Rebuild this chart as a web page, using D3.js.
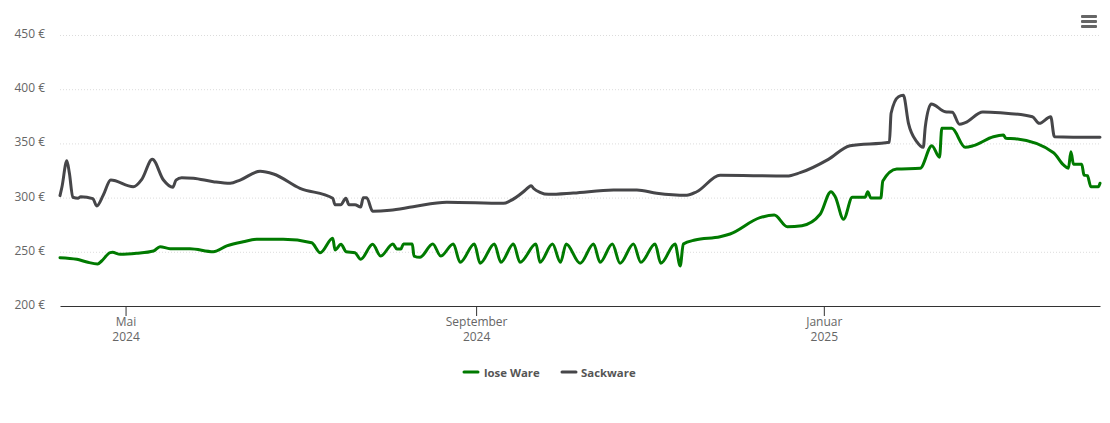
<!DOCTYPE html>
<html>
<head>
<meta charset="utf-8">
<title>Preisentwicklung</title>
<script src="https://cdn.jsdelivr.net/npm/d3@7"></script>
<style>
  html, body { margin: 0; padding: 0; background: #fff; }
  text { font-family: "Open Sans", sans-serif; }
</style>
</head>
<body>
<div id="chart"></div>
<script>
// days counted from 1 May 2024, prices in euro
var looseDays = [-23,-17.1,-13.6,-9.8,-8.4,-5.4,-4.6,-1.9,3.9,9.8,12.1,15.6,22.6,30.8,35.5,41.3,46,55.3,65.3,68.3,72.7,73.5,75.6,77.4,80.5,82.5,86.7,89.5,93.8,95.2,96.6,97.5,100.6,101.2,103.3,107.8,110.6,115,117.4,122.4,124.4,129.4,131.7,136.1,138.4,144,145.4,149.8,152.6,154.6,159.5,164.2,166.5,170.8,173.5,178.2,180.8,185.8,187.8,192.8,194.6,195.7,199.8,208.6,212.1,222.6,227.6,232.2,237.3,243.7,247.5,249,251.9,255,259.5,260.4,261.5,265,265.7,270.6,278.8,282.9,285.6,286.4,289.9,294.6,297.5,304.5,308,308.9,312.1,325.6,329.1,330.8,331.7,332.6,335.5,336.3,337.5,338.7,341.3,341.9];
var loosePrices = [244.6,243.1,240.6,238.7,241.5,249.2,249.5,247.7,248.6,250.7,254.7,252.9,252.9,250.1,255.4,259.3,261.5,261.5,258.4,249.2,262.5,251.7,256.9,250.1,249.2,243.1,256.9,246.1,257.2,252.6,252.6,257.2,257.2,246.1,244.9,257.2,246.1,257.2,240.3,257.2,239.4,257.2,240.3,257.2,240.3,257.2,240.3,257.2,240.3,257.2,239.4,257.2,240.3,257.2,239.4,257.2,240.3,257.2,239.4,257.2,236.9,257.2,260.9,263.9,266.4,281.5,283.9,273.2,274.1,284.6,305.4,300.8,280,300.3,300.3,305.4,299.6,299.6,315.3,326.4,327,347.9,337.2,363.9,363.9,346.4,347.9,356.2,357.7,354.7,354.3,341.4,330.1,327,342.3,330.7,330.7,320.8,320.2,310,310,313.2];

var sackDays = [-23,-22.3,-20.6,-19.7,-18.5,-16.6,-15.7,-11.5,-10.1,-7.8,-5.2,2.7,5.7,9.4,13.3,16.6,17.7,19.7,23.8,30.8,36.7,40.2,47.2,51.9,61.2,72.7,73.5,75.5,77.3,78.4,80.5,82.5,83.4,84.6,86.7,92.8,100.9,112.7,132.6,134.9,139.6,141.4,142.3,143.2,145.4,148.4,157.1,171.2,179.4,186.4,196.9,200.4,208.6,232,236.7,246.6,254.2,268,268.6,271.2,272.9,274.7,277.6,279.9,280.6,282.7,287.6,290.1,292.6,294.6,300.8,306.9,318.2,320.6,324.6,325.9,341.9];
var sackPrices = [301.8,310,334,322.4,300.3,299.4,300.8,299,292.3,302.4,316.2,310,316.9,335.3,316.2,309.5,316.2,318.4,317.8,314.7,313.2,316.2,324.3,321.8,308.6,299.4,293.4,293.4,299.4,293.4,293.4,291.3,299.9,299.9,287.4,288.3,291.6,295.7,294.7,296.9,305.4,309.5,311,308.4,304.9,303,304.2,307,307,304,302.1,305.4,320.6,319.9,323,335.3,347.9,351,377.8,393.1,394.4,368.5,351.6,346.4,365.4,386.3,379.2,378.7,367.6,369.1,379,378.3,374.6,368.5,374.6,356.2,355.6];

var priceTicks = [200,250,300,350,400,450];
var monthTicks = ["2024-05-01","2024-09-01","2025-01-01"];
var monthLabels = [["Mai","2024"],["September","2024"],["Januar","2025"]];
var seriesNames = ["lose Ware","Sackware"];
var seriesColors = ["#007a00","#464649"];

var width = 1110, height = 423;
var left = 60, right = 1100, top_ = 35, bottom = 306;

var svg = d3.select("#chart").append("svg")
  .attr("width", width)
  .attr("height", height)
  .style("display", "block");

var start = new Date(Date.UTC(2024,4,1));
function dayToDate(d) { return new Date(start.getTime() + d*86400000); }

var x = d3.scaleUtc()
  .domain([dayToDate(-23), dayToDate(341.9)])
  .range([left, right]);

var y = d3.scaleLinear()
  .domain([200,450])
  .range([bottom, top_]);

// y axis with the dotted grid lines
var yAxis = d3.axisLeft(y)
  .tickValues(priceTicks)
  .tickSize(-(right-left))
  .tickPadding(15)
  .tickFormat(function(d){ return d + " €"; });

var gy = svg.append("g")
  .attr("transform", "translate(" + left + ",0)")
  .call(yAxis);
gy.select(".domain").remove();
gy.selectAll("line")
  .attr("stroke", "#dcdcdc")
  .attr("stroke-dasharray", "1,2");
gy.selectAll("line").filter(function(d){ return d == 200; }).remove();
gy.selectAll("text")
  .attr("font-size", 12)
  .attr("fill", "#666")
  .attr("dy", "0.2em")
  .style("font-family", "'Open Sans', sans-serif");

// x axis, labels have two rows so they get filled in afterwards
var monthDates = monthTicks.map(function(s){ return new Date(s + "T00:00:00Z"); });
var xAxis = d3.axisBottom(x)
  .tickValues(monthDates)
  .tickSize(10)
  .tickSizeOuter(0)
  .tickFormat("");

var gx = svg.append("g")
  .attr("transform", "translate(0," + bottom + ")")
  .call(xAxis);
gx.select(".domain").attr("stroke", "#333");
gx.selectAll("line").attr("stroke", "#333");
gx.selectAll("text").remove();
gx.selectAll(".tick").each(function(d,i){
  var t = d3.select(this).append("text")
    .attr("text-anchor", "middle")
    .attr("font-size", 12)
    .attr("fill", "#666")
    .style("font-family", "'Open Sans', sans-serif");
  t.append("tspan").attr("x", 0).attr("y", 20).text(monthLabels[i][0]);
  t.append("tspan").attr("x", 0).attr("y", 35).text(monthLabels[i][1]);
});

var line = d3.line()
  .x(function(d){ return x(dayToDate(d[0])); })
  .y(function(d){ return y(d[1]); })
  .curve(d3.curveMonotoneX);

// sack line is drawn last, same as the original
svg.append("path")
  .datum(d3.zip(looseDays, loosePrices))
  .attr("d", line)
  .attr("fill", "none")
  .attr("stroke", seriesColors[0])
  .attr("stroke-width", 3)
  .attr("stroke-linejoin", "round")
  .attr("stroke-linecap", "round");

svg.append("path")
  .datum(d3.zip(sackDays, sackPrices))
  .attr("d", line)
  .attr("fill", "none")
  .attr("stroke", seriesColors[1])
  .attr("stroke-width", 3)
  .attr("stroke-linejoin", "round")
  .attr("stroke-linecap", "round");

// legend
var legendX = [463,561];
var legend = svg.selectAll(".legend")
  .data(seriesNames)
  .enter().append("g")
  .attr("class", "legend")
  .attr("transform", function(d,i){ return "translate(" + legendX[i] + ",372)"; });
legend.append("line")
  .attr("x1", 1).attr("x2", 15)
  .attr("stroke", function(d,i){ return seriesColors[i]; })
  .attr("stroke-width", 3)
  .attr("stroke-linecap", "round");
legend.append("text")
  .attr("x", function(d,i){ return i == 0 ? 21 : 20; })
  .attr("y", 5)
  .attr("font-size", 11.4)
  .attr("font-weight", "bold")
  .attr("fill", "#555")
  .text(function(d){ return d; });

// menu button top right
svg.selectAll(".menu")
  .data([15,20,25])
  .enter().append("rect")
  .attr("class", "menu")
  .attr("x", 1081)
  .attr("y", function(d){ return d; })
  .attr("width", 16)
  .attr("height", 3)
  .attr("rx", 1)
  .attr("fill", "#666");
</script>
</body>
</html>
